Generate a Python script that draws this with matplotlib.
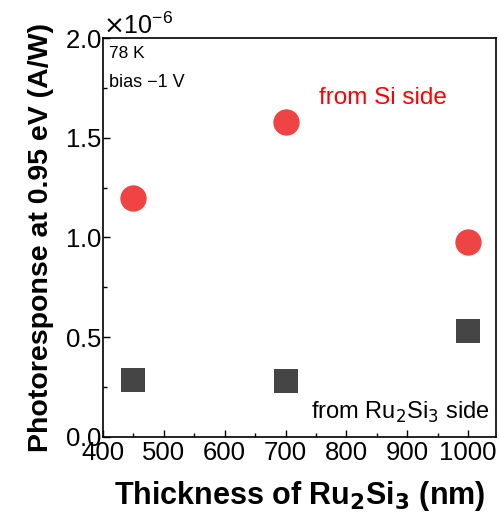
import matplotlib.pyplot as plt
from matplotlib.ticker import MultipleLocator, ScalarFormatter

plt.rcParams['font.family'] = ['Liberation Sans', 'DejaVu Sans']

# data (A/W)
thickness = [450, 700, 1000]
si_side = [1.20e-6, 1.58e-6, 0.977e-6]
ru_side = [0.286e-6, 0.28e-6, 0.531e-6]

fig = plt.figure(figsize=(4.99, 5.2), dpi=100)
ax = fig.add_axes([103 / 499, 1 - 437 / 520, (496 - 103) / 499, (437 - 38) / 520])

ax.scatter(thickness, si_side, s=360, marker='o', color='#f04444', zorder=3, linewidths=0)
ax.scatter(thickness, ru_side, s=290, marker='s', color='#454545', zorder=3, linewidths=0)

ax.set_xlim(400, 1046)
ax.set_ylim(0, 2.0e-6)
ax.xaxis.set_major_locator(MultipleLocator(100))
ax.xaxis.set_minor_locator(MultipleLocator(50))
ax.yaxis.set_major_locator(MultipleLocator(0.5e-6))
ax.yaxis.set_minor_locator(MultipleLocator(0.25e-6))

fmt = ScalarFormatter(useMathText=True)
fmt.set_powerlimits((-3, 3))
ax.yaxis.set_major_formatter(fmt)
ax.yaxis.get_offset_text().set_fontsize(18)

ax.tick_params(which='both', direction='in', labelsize=18.5, pad=1)
ax.tick_params(axis='x', pad=3)
ax.tick_params(which='major', length=5, width=1)
ax.tick_params(which='minor', length=3, width=1)
for sp in ax.spines.values():
    sp.set_linewidth(1.2)

ax.set_xlabel(r'Thickness of Ru$_\mathbf{2}$Si$_\mathbf{3}$ (nm)', fontsize=22, fontweight='bold', labelpad=10)
ax.set_ylabel('Photoresponse at 0.95 eV (A/W)', fontsize=20.5, fontweight='bold', labelpad=8)

ax.text(0.015, 0.98, '78 K', transform=ax.transAxes, fontsize=12.5, va='top', ha='left')
ax.text(0.015, 0.91, 'bias \u22121 V', transform=ax.transAxes, fontsize=13, va='top', ha='left')
ax.text(0.55, 0.835, 'from Si side', transform=ax.transAxes, fontsize=17.5, color='#ff0000', ha='left')
ax.text(0.985, 0.045, r'from Ru$_2$Si$_3$ side', transform=ax.transAxes, fontsize=17, ha='right')

fig.savefig('out.png', dpi=100)
